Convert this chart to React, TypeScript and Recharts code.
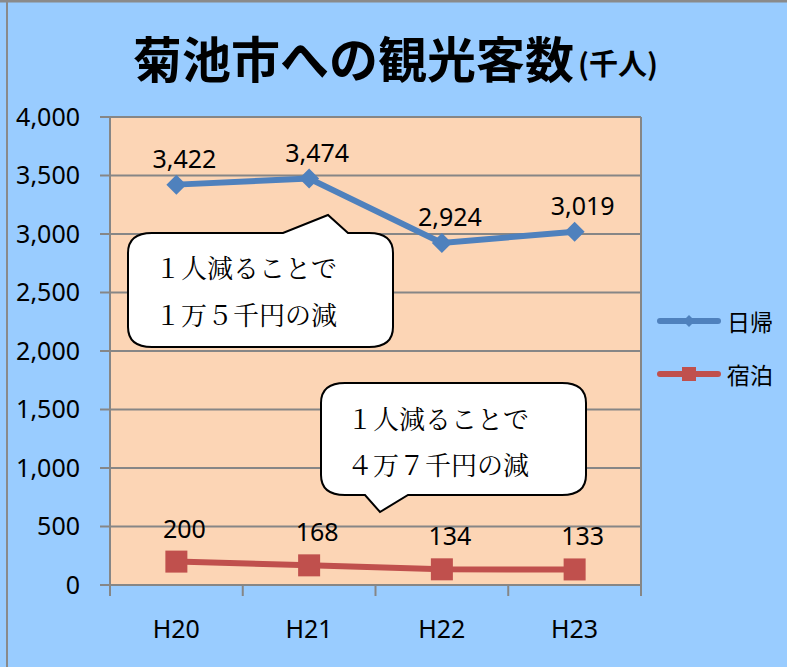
import { LineChart, Line, XAxis, YAxis, CartesianGrid } from "recharts";

const categories = ["H20", "H21", "H22", "H23"];
const higaeri = [3422, 3474, 2924, 3019];
const shukuhaku = [200, 168, 134, 133];
const yTicks = [0, 500, 1000, 1500, 2000, 2500, 3000, 3500, 4000];

const data = categories.map((name, i) => ({
  name,
  日帰: higaeri[i],
  宿泊: shukuhaku[i],
}));

const W = 787;
const H = 667;
const plot = { left: 110, right: 641, top: 117, bottom: 585 };

const BLUE = "#4f81bd";
const RED = "#c0504d";
const GRID = "#868686";
const NUM_FONT = "'Noto Sans', 'Open Sans', sans-serif";
const JP_FONT = "'Noto Sans CJK JP', sans-serif";
const BUBBLE_FONT = "'Noto Serif CJK JP', 'Noto Sans CJK JP', serif";

const fmt = (v: number) => v.toLocaleString("en-US");

const Diamond = (p: any) => {
  const { cx, cy } = p;
  if (cx == null || cy == null) return null;
  const s = 10;
  return (
    <path
      key={`d-${p.index}`}
      d={`M${cx},${cy - s} L${cx + s},${cy} L${cx},${cy + s} L${cx - s},${cy} Z`}
      fill={BLUE}
    />
  );
};

const Square = (p: any) => {
  const { cx, cy } = p;
  if (cx == null || cy == null) return null;
  const s = 11;
  return <rect key={`s-${p.index}`} x={cx - s} y={cy - s} width={s * 2} height={s * 2} fill={RED} />;
};

const makeLabel = (lift: number) => (p: any) => (
  <text
    key={`l-${lift}-${p.index}`}
    x={p.x + 8}
    y={p.y - lift}
    textAnchor="middle"
    dominantBaseline="central"
    fontFamily={NUM_FONT}
    fontSize={25}
    fill="#000"
  >
    {fmt(p.value)}
  </text>
);

const XTick = (p: any) => (
  <text
    x={p.x}
    y={p.y + 43}
    textAnchor="middle"
    dominantBaseline="central"
    fontFamily={NUM_FONT}
    fontSize={25}
    fill="#000"
  >
    {p.payload.value}
  </text>
);

// speech bubble: rounded box with a pointed tail
function bubblePath(
  x0: number,
  y0: number,
  x1: number,
  y1: number,
  tail: { side: "top" | "bottom"; a: number; b: number; tx: number; ty: number }
) {
  const rx = 24;
  const ry = 20;
  let d = `M${x0 + rx},${y0}`;
  if (tail.side === "top") d += ` L${tail.a},${y0} L${tail.tx},${tail.ty} L${tail.b},${y0}`;
  d += ` L${x1 - rx},${y0} Q${x1},${y0} ${x1},${y0 + ry} L${x1},${y1 - ry} Q${x1},${y1} ${x1 - rx},${y1}`;
  if (tail.side === "bottom") d += ` L${tail.b},${y1} L${tail.tx},${tail.ty} L${tail.a},${y1}`;
  d += ` L${x0 + rx},${y1} Q${x0},${y1} ${x0},${y1 - ry} L${x0},${y0 + ry} Q${x0},${y0} ${x0 + rx},${y0} Z`;
  return d;
}

export default function App() {
  const bandW = (plot.right - plot.left) / categories.length;
  return (
    <div style={{ position: "absolute", left: 0, top: 0, width: W, height: H, background: "#99ccff" }}>
      <LineChart
        width={W}
        height={H}
        data={data}
        margin={{ top: plot.top, right: W - plot.right, bottom: 42, left: 0 }}
      >
        <CartesianGrid vertical={false} stroke={GRID} strokeWidth={2} fill="#fcd5b5" fillOpacity={1} />
        <XAxis
          dataKey="name"
          scale="band"
          height={H - plot.bottom - 42}
          axisLine={{ stroke: GRID, strokeWidth: 2 }}
          tickLine={false}
          tickSize={0}
          tickMargin={0}
          tick={<XTick />}
        />
        <YAxis
          width={plot.left}
          domain={[0, 4000]}
          ticks={yTicks}
          interval={0}
          tickFormatter={fmt}
          axisLine={{ stroke: GRID, strokeWidth: 2 }}
          tickLine={{ stroke: GRID, strokeWidth: 2 }}
          tickSize={10}
          tickMargin={20}
          tick={{ fontFamily: NUM_FONT, fontSize: 25, fill: "#000" }}
        />
        <Line
          dataKey="日帰"
          stroke={BLUE}
          strokeWidth={6}
          dot={Diamond}
          activeDot={false}
          label={makeLabel(27)}
          isAnimationActive={false}
        />
        <Line
          dataKey="宿泊"
          stroke={RED}
          strokeWidth={6}
          dot={Square}
          activeDot={false}
          label={makeLabel(34)}
          isAnimationActive={false}
        />
      </LineChart>

      <svg
        width={W}
        height={H}
        style={{ position: "absolute", left: 0, top: 0, pointerEvents: "none" }}
      >
        {/* frame */}
        <line x1={7} y1={0} x2={7} y2={H} stroke="#8a8a8a" strokeWidth={2} />
        <line x1={0} y1={1} x2={W} y2={1} stroke="#8a8a8a" strokeWidth={3} />
        {/* plot right edge */}
        <line x1={plot.right} y1={plot.top} x2={plot.right} y2={plot.bottom} stroke={GRID} strokeWidth={2} />
        {/* category boundary ticks */}
        {Array.from({ length: categories.length + 1 }, (_, i) => (
          <line
            key={i}
            x1={plot.left + i * bandW}
            y1={plot.bottom}
            x2={plot.left + i * bandW}
            y2={plot.bottom + 11}
            stroke={GRID}
            strokeWidth={2}
          />
        ))}

        {/* title */}
        <text x={133} y={56} dominantBaseline="central" fontFamily={JP_FONT} fontWeight={700} fill="#000">
          <tspan fontSize={49}>菊池市への観光客数</tspan>
          <tspan fontSize={29} dx={4} dy={6}>(千人)</tspan>
        </text>

        {/* legend */}
        <line x1={660} y1={321} x2={718} y2={321} stroke={BLUE} strokeWidth={6} strokeLinecap="round" />
        <path d="M689,315 L695,321 L689,327 L683,321 Z" fill={BLUE} />
        <text x={727} y={321} dominantBaseline="central" fontFamily={JP_FONT} fontSize={23} fill="#000">
          日帰
        </text>
        <line x1={660} y1={374} x2={718} y2={374} stroke={RED} strokeWidth={6} strokeLinecap="round" />
        <rect x={682} y={367} width={14} height={14} fill={RED} />
        <text x={727} y={374} dominantBaseline="central" fontFamily={JP_FONT} fontSize={23} fill="#000">
          宿泊
        </text>

        {/* callouts */}
        <path
          d={bubblePath(128, 233, 393, 347, { side: "top", a: 283, b: 348, tx: 328, ty: 215 })}
          fill="#fff"
          stroke="#000"
          strokeWidth={2}
        />
        <text fontFamily={BUBBLE_FONT} fontSize={26} fill="#000" dominantBaseline="central">
          <tspan x={155} y={266}>１人減ることで</tspan>
          <tspan x={155} y={313}>１万５千円の減</tspan>
        </text>
        <path
          d={bubblePath(321, 383, 586, 495, { side: "bottom", a: 365, b: 408, tx: 380, ty: 512 })}
          fill="#fff"
          stroke="#000"
          strokeWidth={2}
        />
        <text fontFamily={BUBBLE_FONT} fontSize={26} fill="#000" dominantBaseline="central">
          <tspan x={347} y={417}>１人減ることで</tspan>
          <tspan x={347} y={463}>４万７千円の減</tspan>
        </text>
      </svg>
    </div>
  );
}
